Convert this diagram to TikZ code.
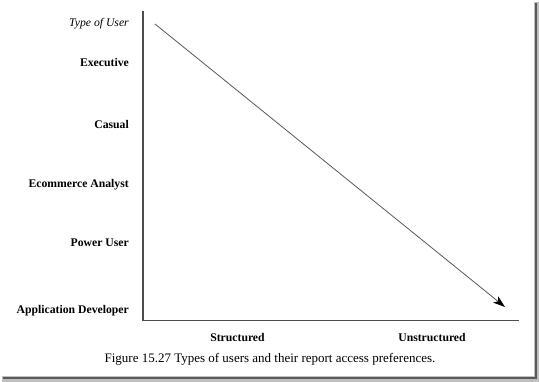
\documentclass[tikz,border=0pt]{standalone}
\usepackage{fontspec}
\setmainfont{Liberation Serif}
\usetikzlibrary{arrows.meta}
\begin{document}
\begin{tikzpicture}[x=1pt,y=-1pt,
  lbl/.style={font=\fontsize{11.7}{13}\selectfont\bfseries, anchor=east, inner sep=0pt},
  axlbl/.style={font=\fontsize{11.7}{13}\selectfont\bfseries, inner sep=0pt},
  axis/.style={draw=black!70, line width=1.3pt},
  trend/.style={draw=black!65, line width=0.8pt, -{Stealth[length=12pt,width=8pt,inset=3pt,color=black]}}]
\useasboundingbox (0,0) rectangle (539,382);
\fill[white] (0,0) rectangle (539,382);
% drop shadow frame
\fill[black!25] (534,2) rectangle (539,382);
\fill[black!25] (2,376) rectangle (539,382);
\fill[black!65] (534.5,3) rectangle (536.5,379);
\fill[black!65] (3,377) rectangle (536.5,379);
% axes
\coordinate (top) at (143,11);
\coordinate (origin) at (143,320.5);
\coordinate (right) at (519,320.5);
\draw[axis] (top) -- (origin) -- (right);
% trend arrow
\coordinate (start) at (155,24);
\coordinate (end) at (505,307);
\draw[trend] (start) -- (end);
% labels
\node[lbl, font=\fontsize{11.7}{13}\selectfont\itshape] (tu) at (129,24) {Type of User};
\node[lbl] (ex) at (129,63) {Executive};
\node[lbl] (ca) at (129,125) {Casual};
\node[lbl] (ea) at (129,185) {Ecommerce Analyst};
\node[lbl] (pu) at (129,243) {Power User};
\node[lbl] (ad) at (129,311) {Application Developer};
\node[axlbl] (st) at (237.5,338) {Structured};
\node[axlbl] (un) at (432,338) {Unstructured};
\node[font=\fontsize{13}{15}\selectfont, inner sep=0pt] (cap) at (270,359) {Figure 15.27 Types of users and their report access preferences.};
\end{tikzpicture}
\end{document}
